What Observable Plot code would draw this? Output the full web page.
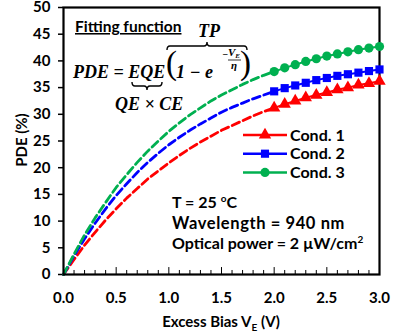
<!DOCTYPE html>
<html><head><meta charset="utf-8">
<script src="https://cdn.jsdelivr.net/npm/d3@7"></script>
<script src="https://cdn.jsdelivr.net/npm/@observablehq/plot@0.6"></script>
<style>body{margin:0;background:#fff}</style>
</head><body><div id="chart"></div>
<script>
// ---- data ----
const voltages = [0.0,0.1,0.2,0.3,0.4,0.5,0.6,0.7,0.8,0.9,1.0,1.1,1.2,1.3,1.4,1.5,1.6,1.7,1.8,1.9,2.0,2.1,2.2,2.3,2.4,2.5,2.6,2.7,2.8,2.9,3.0];
const cond1 = [0,2.8,5.5,7.9,10.2,12.3,14.3,16.1,17.9,19.4,20.9,22.3,23.6,24.8,25.9,27.0,27.9,28.8,29.7,30.5,31.2,31.9,32.5,33.1,33.6,34.1,34.6,35.0,35.5,35.8,36.2];
const cond2 = [0,3.5,6.7,9.6,12.3,14.8,17.0,19.1,21.0,22.7,24.3,25.7,27.0,28.2,29.3,30.4,31.3,32.1,32.9,33.6,34.3,34.9,35.4,35.9,36.4,36.8,37.2,37.5,37.8,38.1,38.4];
const cond3 = [0,3.8,7.4,10.6,13.5,16.3,18.7,21.0,23.1,25.0,26.8,28.4,29.9,31.2,32.5,33.6,34.6,35.6,36.5,37.3,38.0,38.7,39.3,39.9,40.4,40.9,41.3,41.7,42.1,42.4,42.7];
const seriesNames = ["Cond. 1","Cond. 2","Cond. 3"];
const seriesColors = ["#FF0000","#0000FF","#00B050"];
const seriesSymbols = ["triangle","square","circle"];
const fitEnd = 2.0;      // dashed fit shown from 0 to 2 V, measured markers from 2 to 3 V
const xTicks = [0,0.5,1.0,1.5,2.0,2.5,3.0];
const xMinor = [0.1,0.2,0.3,0.4,0.6,0.7,0.8,0.9,1.1,1.2,1.3,1.4,1.6,1.7,1.8,1.9,2.1,2.2,2.3,2.4,2.6,2.7,2.8,2.9];
const yTicks = [0,5,10,15,20,25,30,35,40,45,50];

const allSeries = [cond1, cond2, cond3];
const rows = [];
allSeries.forEach((vals, s) => vals.forEach((p, i) => rows.push({v: voltages[i], pde: p, series: seriesNames[s]})));
const fitRows = rows.filter(d => d.v <= fitEnd + 1e-9);
const measRows = rows.filter(d => d.v >= fitEnd - 1e-9);

const colorScale = {domain: seriesNames, range: seriesColors};
const symbolScale = {domain: seriesNames, range: seriesSymbols};
const markR = 4.6;

const plot = Plot.plot({
  width: 400, height: 333,
  marginLeft: 63, marginRight: 21, marginTop: 7, marginBottom: 59,
  x: {domain: [0, 3]},
  y: {domain: [0, 50]},
  color: colorScale,
  symbol: symbolScale,
  style: {fontFamily: "Lato, sans-serif", fontSize: "15px", fontWeight: "bold", color: "#000", background: "#fff", overflow: "visible"},
  marks: [
    Plot.ruleX(xMinor, {x: d => d, y1: 0, y2: 0.75, stroke: "#000", strokeWidth: 1}),
    Plot.ruleX(xTicks, {x: d => d, y1: 0, y2: 1.3, stroke: "#000", strokeWidth: 1}),
    Plot.axisX({ticks: xTicks, tickSize: 0, tickPadding: 18, tickFormat: d => d.toFixed(1), label: null}),
    Plot.axisY({ticks: yTicks, tickSize: 5, tickPadding: 8, label: null, strokeWidth: 1.5}),
    Plot.line(fitRows, {x: "v", y: "pde", z: "series", stroke: "series", strokeWidth: 2.8, strokeDasharray: "8,4"}),
    Plot.frame({stroke: "#000", strokeWidth: 2.2}),
    Plot.line(measRows, {x: "v", y: "pde", z: "series", stroke: "series", strokeWidth: 2}),
    Plot.dot(measRows, {x: "v", y: "pde", symbol: "series", fill: "series", stroke: "none", r: markR})
  ]
});
document.getElementById("chart").appendChild(plot);

// ---- annotations (layout) ----
const svg = d3.select(plot);
const sans = "Lato, sans-serif";
const serif = "'Liberation Serif', serif";
const ann = svg.append("g").attr("text-anchor", "start").attr("fill", "#000");

// axis titles
const xl = ann.append("text").attr("x", 221).attr("y", 327).attr("text-anchor", "middle")
  .attr("font-family", sans).attr("font-weight", "bold").attr("font-size", 15);
xl.append("tspan").text("Excess Bias V");
xl.append("tspan").attr("font-size", 10).attr("dy", 4).text("E");
xl.append("tspan").attr("dy", -4).text(" (V)");
ann.append("text").attr("transform", "translate(27,140) rotate(-90)").attr("text-anchor", "middle")
  .attr("font-family", sans).attr("font-weight", "bold").attr("font-size", 15).text("PDE (%)");

// legend
const lg = ann.append("g");
seriesNames.forEach((name, i) => {
  const y = 135 + i * 18.7;
  lg.append("line").attr("x1", 243).attr("x2", 287).attr("y1", y).attr("y2", y)
    .attr("stroke", seriesColors[i]).attr("stroke-width", 2.5);
  const sym = {triangle: d3.symbolTriangle, square: d3.symbolSquare, circle: d3.symbolCircle}[seriesSymbols[i]];
  lg.append("path").attr("d", d3.symbol(sym, Math.PI * markR * markR)()).attr("transform", `translate(265,${y})`)
    .attr("fill", seriesColors[i]);
  lg.append("text").attr("x", 290).attr("y", y).attr("dy", "0.36em")
    .attr("font-family", sans).attr("font-weight", "bold").attr("font-size", 16).text(name);
});

// condition notes
const notes = ann.append("g").attr("font-family", sans).attr("font-weight", "bold").attr("font-size", 16);
const t1 = notes.append("text").attr("x", 172).attr("y", 208);
t1.append("tspan").text("T = 25 ");
t1.append("tspan").attr("font-size", 10).attr("dy", -6).text("o");
t1.append("tspan").attr("dy", 6).text("C");
notes.append("text").attr("x", 172).attr("y", 229).attr("font-size", 16.5).attr("letter-spacing", 0.6).text("Wavelength = 940 nm");
const t3 = notes.append("text").attr("x", 172).attr("y", 249);
t3.append("tspan").text("Optical power = 2 \u00B5W/cm");
t3.append("tspan").attr("font-size", 10).attr("dy", -6).text("2");

// fitting function
ann.append("text").attr("x", 75).attr("y", 32).attr("font-family", sans).attr("font-weight", "bold")
  .attr("font-size", 15.5).attr("text-decoration", "underline").text("Fitting function");

const f = ann.append("g").attr("font-family", serif).attr("font-weight", "bold").attr("font-style", "italic");
f.append("text").attr("x", 73).attr("y", 78).attr("font-size", 18).text("PDE = EQE");
f.append("text").attr("x", 166).attr("y", 74).attr("font-size", 33).attr("font-weight", "normal").attr("font-style", "normal").text("(");
f.append("text").attr("x", 176).attr("y", 78).attr("font-size", 18).text("1 \u2212 e");
f.append("text").attr("x", 222).attr("y", 58).attr("font-size", 10).text("\u2212");
const ve = f.append("text").attr("x", 228).attr("y", 56).attr("font-size", 11);
ve.append("tspan").text("V");
ve.append("tspan").attr("font-size", 7).attr("dy", 2).text("E");
f.append("line").attr("x1", 228).attr("x2", 241).attr("y1", 60).attr("y2", 60).attr("stroke", "#000").attr("stroke-width", 0.8);
f.append("text").attr("x", 231).attr("y", 69).attr("font-size", 11).text("\u03B7");
f.append("text").attr("x", 240).attr("y", 74).attr("font-size", 33).attr("font-weight", "normal").attr("font-style", "normal").text(")");
f.append("text").attr("x", 198).attr("y", 37).attr("font-size", 18).text("TP");
f.append("text").attr("x", 115).attr("y", 110).attr("font-size", 18).text("QE \u00D7 CE");

function brace(x1, x2, y, dir) {
  // dir = -1 : tip up (overbrace); dir = 1 : tip down (underbrace)
  const xm = (x1 + x2) / 2, e = 4 * -dir, t = 4 * dir;
  return `M${x1},${y + e} Q${x1},${y} ${x1 + 3},${y} L${xm - 3},${y} Q${xm},${y} ${xm},${y + t} Q${xm},${y} ${xm + 3},${y} L${x2 - 3},${y} Q${x2},${y} ${x2},${y + e}`;
}
ann.append("path").attr("d", brace(167, 247, 46, -1)).attr("fill", "none").attr("stroke", "#000").attr("stroke-width", 1.4);
ann.append("path").attr("d", brace(132, 162, 86, 1)).attr("fill", "none").attr("stroke", "#000").attr("stroke-width", 1.4);
</script>
</body></html>
